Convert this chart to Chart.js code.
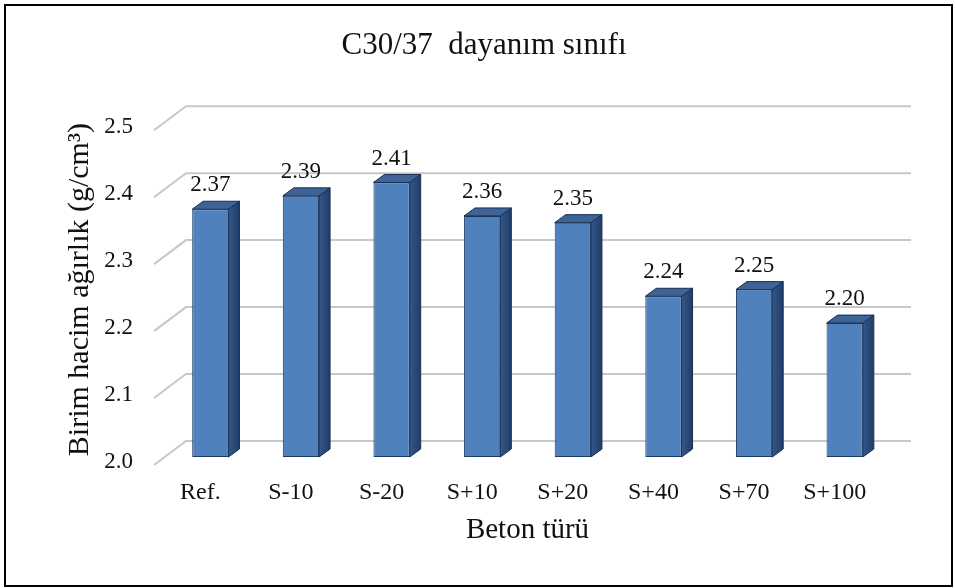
<!DOCTYPE html>
<html>
<head>
<meta charset="utf-8">
<script src="https://cdn.jsdelivr.net/npm/chart.js@4.4.1/dist/chart.umd.min.js"></script>
<style>
  html, body { margin: 0; padding: 0; background: #fff; }
  canvas { display: block; }
</style>
</head>
<body>
<canvas id="densityChart" width="955" height="588"></canvas>
<script>
const categories = ["Ref.", "S-10", "S-20", "S+10", "S+20", "S+40", "S+70", "S+100"];
const unitWeights = [2.37, 2.39, 2.41, 2.36, 2.35, 2.24, 2.25, 2.20];
const yTicks = [2.0, 2.1, 2.2, 2.3, 2.4, 2.5];

const serif = "'Liberation Serif', 'Times New Roman', serif";
const textColor = "#111";

// depth of the 3d bars, and offset of the back wall from the bar plane
const DX = 11, DY = 8;
const WALL_X = 21, WALL_Y = 16;

const frame = {
  id: "frame",
  afterDraw(chart) {
    const { ctx } = chart;
    ctx.save();
    ctx.strokeStyle = "#000";
    ctx.lineWidth = 2;
    ctx.strokeRect(5, 5, 947, 581);
    ctx.restore();
  },
};

const depthGrid = {
  id: "depthGrid",
  beforeDatasetsDraw(chart) {
    const { ctx, chartArea } = chart;
    const y = chart.scales.y;
    ctx.save();
    ctx.strokeStyle = "#c8c8c8";
    ctx.lineWidth = 2;
    y.ticks.forEach((t) => {
      const py = y.getPixelForValue(t.value);
      ctx.beginPath();
      ctx.moveTo(chartArea.left - DX, py + DY);
      ctx.lineTo(chartArea.left + WALL_X, py - WALL_Y);
      ctx.lineTo(chartArea.right + WALL_X, py - WALL_Y);
      ctx.stroke();
    });
    ctx.restore();
  },
};

const bars3d = {
  id: "bars3d",
  afterDatasetsDraw(chart) {
    const { ctx, chartArea } = chart;
    const meta = chart.getDatasetMeta(0);
    ctx.save();
    ctx.lineWidth = 1;
    ctx.strokeStyle = "#172f52";
    meta.data.forEach((bar, i) => {
      const { x, y, base, width } = bar.getProps(["x", "y", "base", "width"], true);
      const b = Math.min(base, chartArea.bottom);
      const l = x - width / 2;
      const r = x + width / 2;

      // side face
      const side = ctx.createLinearGradient(r, 0, r + DX, 0);
      side.addColorStop(0, "#34588a");
      side.addColorStop(1, "#203d66");
      ctx.fillStyle = side;
      ctx.beginPath();
      ctx.moveTo(r, y);
      ctx.lineTo(r + DX, y - DY);
      ctx.lineTo(r + DX, b - DY);
      ctx.lineTo(r, b);
      ctx.closePath();
      ctx.fill();
      ctx.stroke();

      // top face
      ctx.fillStyle = "#3d6397";
      ctx.beginPath();
      ctx.moveTo(l, y);
      ctx.lineTo(l + DX, y - DY);
      ctx.lineTo(r + DX, y - DY);
      ctx.lineTo(r, y);
      ctx.closePath();
      ctx.fill();
      ctx.stroke();

      // value label
      ctx.fillStyle = textColor;
      ctx.font = "23px " + serif;
      ctx.textAlign = "center";
      ctx.textBaseline = "middle";
      ctx.fillText(unitWeights[i].toFixed(2), x, y - 24);
    });
    ctx.restore();
  },
};

function frontFill(context) {
  const bar = context.element;
  if (!bar || bar.x === undefined) return "#4f81bd";
  const g = context.chart.ctx.createLinearGradient(bar.x - bar.width / 2, 0, bar.x + bar.width / 2, 0);
  g.addColorStop(0, "#5b8dca");
  g.addColorStop(0.3, "#4f81bd");
  g.addColorStop(1, "#4677b2");
  return g;
}

new Chart(document.getElementById("densityChart"), {
  type: "bar",
  data: {
    labels: categories,
    datasets: [
      {
        data: unitWeights,
        base: yTicks[0],
        backgroundColor: frontFill,
        borderColor: "#1f3a63",
        borderWidth: 1,
        borderSkipped: false,
        barPercentage: 1,
        categoryPercentage: 0.4,
      },
    ],
  },
  options: {
    responsive: false,
    animation: false,
    layout: { padding: { top: 0, right: 0, bottom: 0, left: 13 } },
    plugins: {
      legend: { display: false },
      tooltip: { enabled: false },
      title: {
        display: true,
        text: "C30/37  dayanım sınıfı",
        color: textColor,
        font: { family: serif, size: 31, weight: "normal" },
        padding: { top: 27, bottom: 58 },
      },
    },
    scales: {
      x: {
        grid: { display: false, drawTicks: false },
        border: { display: false },
        ticks: {
          color: textColor,
          font: { family: serif, size: 24 },
          padding: 21,
          labelOffset: -10,
        },
        title: {
          display: true,
          text: "Beton türü",
          color: textColor,
          font: { family: serif, size: 29 },
          padding: { top: 0, bottom: 40 },
        },
        afterFit(s) {
          s.height = 131;
        },
      },
      y: {
        min: 2.0,
        max: 2.5,
        afterBuildTicks(s) {
          s.ticks = yTicks.map((v) => ({ value: v }));
        },
        grid: { display: false, drawTicks: false },
        border: { display: false },
        ticks: {
          color: textColor,
          font: { family: serif, size: 23 },
          padding: 32,
          labelOffset: 5,
          callback: (v) => Number(v).toFixed(1),
        },
        title: {
          display: true,
          text: "Birim hacim ağırlık (g/cm³)",
          color: textColor,
          font: { family: serif, size: 30 },
          padding: { top: 49, bottom: 0 },
        },
        afterFit(s) {
          s.width = 152;
        },
      },
      yRight: {
        position: "right",
        display: true,
        grid: { display: false, drawTicks: false },
        border: { display: false },
        ticks: { display: false },
        afterFit(s) {
          s.width = 65;
        },
      },
    },
  },
  plugins: [frame, depthGrid, bars3d],
});
</script>
</body>
</html>
